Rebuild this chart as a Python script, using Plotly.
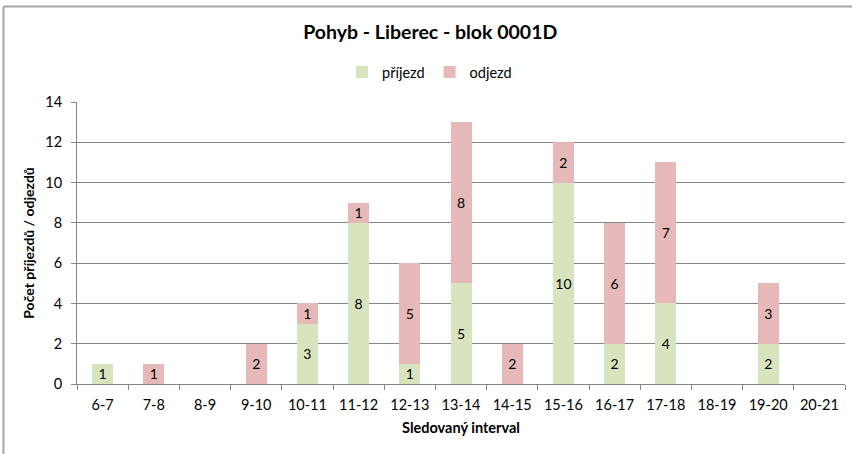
import plotly.graph_objects as go

categories = ["6-7", "7-8", "8-9", "9-10", "10-11", "11-12", "12-13", "13-14",
              "14-15", "15-16", "16-17", "17-18", "18-19", "19-20", "20-21"]
prijezd = [1, 0, 0, 0, 3, 8, 1, 5, 0, 10, 2, 4, 0, 2, 0]
odjezd = [0, 1, 0, 2, 1, 1, 5, 8, 2, 2, 6, 7, 0, 3, 0]

FONT = "Lato, Open Sans, sans-serif"

def labels(vals):
    return [str(v) if v else "" for v in vals]

fig = go.Figure()
for name, vals, col in [("příjezd", prijezd, "#D7E4BD"), ("odjezd", odjezd, "#E6B9B8")]:
    fig.add_trace(go.Bar(x=categories, y=vals, name=name,
                         marker=dict(color=col, line=dict(width=0)),
                         text=labels(vals), textposition="inside", textangle=0,
                         insidetextanchor="middle", constraintext="none",
                         textfont=dict(color="black", size=14, family=FONT)))

fig.update_layout(
    barmode="stack",
    bargap=0.59,
    width=852, height=454,
    margin=dict(l=77, r=7, t=102, b=70),
    paper_bgcolor="white", plot_bgcolor="white",
    font=dict(family=FONT, size=14.5, color="black"),
    title=dict(text="<b>Pohyb - Liberec - blok 0001D</b>", x=0.505, xanchor="center",
               y=1 - 32/454, yanchor="middle", font=dict(size=19.5, family=FONT)),
    legend=dict(orientation="h", x=0.459, xanchor="center", y=1 + (102-72)/282,
                yanchor="middle", font=dict(size=14.5), traceorder="normal",
                itemwidth=30),
    xaxis=dict(type="category",
               title=dict(text="<b>Sledovaný interval</b>", font=dict(size=14.5), standoff=10),
               showline=True, linecolor="#868686", linewidth=1,
               ticks="outside", ticklen=5, tickcolor="#868686", ticklabelstandoff=8,
               tickson="boundaries", showgrid=False),
    yaxis=dict(title=dict(text="<b>Počet příjezdů / odjezdů</b>", font=dict(size=14), standoff=7),
               range=[0, 14], dtick=2, showline=True, linecolor="#868686", linewidth=1,
               ticks="outside", ticklen=5, tickcolor="#868686", ticklabelstandoff=6,
               showgrid=True, gridcolor="#868686", gridwidth=1, zeroline=False),
    shapes=[
        dict(type="line", xref="paper", yref="paper",
             x0=(3.5-77)/768, x1=(860-77)/768, y0=1+(102-6.5)/282, y1=1+(102-6.5)/282,
             line=dict(color="#A6A6A6", width=2)),
        dict(type="line", xref="paper", yref="paper",
             x0=(3.5-77)/768, x1=(3.5-77)/768, y0=1+(102-6.5)/282, y1=-(460-384)/282,
             line=dict(color="#A6A6A6", width=2)),
    ],
)

fig.write_html("out.html", config={"displayModeBar": False},
               post_script="document.body.style.margin='0';")
